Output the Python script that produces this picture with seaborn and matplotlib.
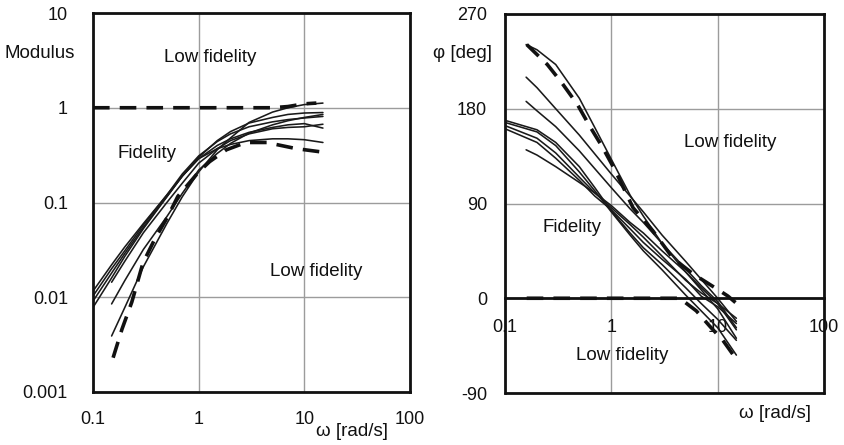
import numpy as np
import pandas as pd
import matplotlib
matplotlib.use("Agg")
import matplotlib.pyplot as plt
from matplotlib.ticker import FixedLocator, NullLocator
import seaborn as sns

# ---------------------------------------------------------------- data
# Modulus curves (angular frequency in rad/s, modulus)
mod_w_full = [0.1, 0.15, 0.2, 0.3, 0.5, 0.7, 1, 1.5, 2, 3, 5, 7, 10, 15]
mod_w_late = [0.15, 0.2, 0.3, 0.5, 0.7, 1, 1.5, 2, 3, 5, 7, 10, 15]

mod_b1 = [0.0116, 0.022, 0.034, 0.060, 0.12, 0.19, 0.29, 0.40, 0.47, 0.55, 0.62, 0.66, 0.68, 0.61]
mod_b2 = [0.0103, 0.020, 0.031, 0.058, 0.12, 0.20, 0.31, 0.44, 0.53, 0.63, 0.71, 0.75, 0.78, 0.81]
mod_b3 = [0.0091, 0.018, 0.029, 0.055, 0.115, 0.19, 0.29, 0.37, 0.41, 0.45, 0.47, 0.47, 0.46, 0.43]
mod_b4 = [0.0078, 0.016, 0.027, 0.053, 0.115, 0.19, 0.30, 0.45, 0.56, 0.69, 0.79, 0.85, 0.88, 0.89]
mod_c1 = [0.0144, 0.024, 0.048, 0.10, 0.16, 0.26, 0.37, 0.45, 0.53, 0.60, 0.62, 0.63, 0.67]
mod_c2 = [0.0085, 0.015, 0.032, 0.071, 0.125, 0.22, 0.33, 0.42, 0.54, 0.66, 0.73, 0.79, 0.85]
mod_c3 = [0.0039, 0.0078, 0.021, 0.060, 0.115, 0.21, 0.36, 0.48, 0.70, 0.90, 1.00, 1.08, 1.12]

mod_upper_w = [0.1, 1, 5, 7, 10, 13]
mod_upper = [1.0, 1.0, 1.0, 1.03, 1.10, 1.12]
mod_lower_w = [0.155, 0.188, 0.233, 0.297, 0.384, 0.51, 0.635, 1.0, 1.27, 1.83, 2.8, 4.4, 8.4, 15]
mod_lower = [0.0023, 0.0046, 0.0089, 0.023, 0.041, 0.071, 0.116, 0.21, 0.27, 0.36, 0.43, 0.43, 0.37, 0.34]

# Phase curves (angular frequency in rad/s, phase in degrees)
ph_w_full = [0.1, 0.2, 0.3, 0.5, 0.7, 1, 1.5, 2, 3, 5, 7, 10, 15]
ph_w_late = [0.158, 0.2, 0.3, 0.5, 0.7, 1, 1.5, 2, 3, 5, 7, 10, 15]

ph_p1 = [241, 236, 222, 190, 162, 132, 98, 78, 52, 25, 8, -10, -38]
ph_p2 = [210, 200, 180, 155, 137, 118, 97, 82, 60, 35, 18, 0, -22]
ph_p3 = [187, 178, 163, 140, 123, 105, 85, 72, 52, 28, 12, -3, -28]
ph_p4 = [141, 136, 125, 110, 100, 88, 72, 62, 45, 25, 10, -5, -30]
ph_p5 = [169, 160, 148, 125, 105, 83, 62, 48, 32, 10, -5, -20, -40]
ph_p6 = [167, 158, 145, 120, 102, 82, 60, 45, 27, 3, -12, -28, -54]
ph_p7 = [164, 152, 138, 115, 100, 86, 70, 58, 40, 17, 5, -5, -19]
ph_p8 = [161, 148, 133, 112, 97, 84, 66, 53, 37, 18, 2, -8, -24]

ph_upper_w = [0.16, 0.25, 0.34, 0.48, 0.63, 0.82, 1.08, 1.6, 2.46, 3.8, 5.9, 10.5, 12.5, 15.5]
ph_upper = [241, 222, 205, 184, 163, 144, 122, 86, 64, 38, 23, 7, 2, -6]
ph_lower_w = [0.16, 1, 3, 4.4, 6.3, 8.5, 11.2, 15.5]
ph_lower = [0, 0, 0, 0, -12, -27, -40, -60]

freq_ticks = [0.1, 1, 10, 100]
freq_labels = ["0.1", "1", "10", "100"]
mod_ticks = [0.001, 0.01, 0.1, 1, 10]
mod_labels = ["0.001", "0.01", "0.1", "1", "10"]
ph_ticks = [-90, 0, 90, 180, 270]
ph_labels = ["-90", "0", "90", "180", "270"]

# ---------------------------------------------------------------- style
sns.set_style("white")
plt.rcParams["font.family"] = ["Liberation Sans", "DejaVu Sans"]
plt.rcParams["text.color"] = "#111111"
plt.rcParams["xtick.color"] = "#111111"
plt.rcParams["ytick.color"] = "#111111"

W, H = 845, 445
fig = plt.figure(figsize=(W / 100, H / 100), dpi=100)


def box(x0, y0, x1, y1):
    return [x0 / W, 1 - y1 / H, (x1 - x0) / W, (y1 - y0) / H]


ax1 = fig.add_axes(box(93, 13, 410, 392))
ax2 = fig.add_axes(box(505, 14, 824, 393))

SOLID = dict(color="#1a1a1a", linewidth=1.15)
DASH = dict(color="#111111", linewidth=2.6, dashes=(4.6, 2.8))
TXT = 13.5

# ---------------------------------------------------------------- modulus
for vals in (mod_b1, mod_b2, mod_b3, mod_b4):
    sns.lineplot(x=mod_w_full, y=vals, ax=ax1, **SOLID)
for vals in (mod_c1, mod_c2, mod_c3):
    sns.lineplot(x=mod_w_late, y=vals, ax=ax1, **SOLID)
ax1.plot(mod_upper_w, mod_upper, **DASH)
ax1.plot(mod_lower_w, mod_lower, **DASH)

ax1.set_xscale("log")
ax1.set_yscale("log")
ax1.set_xlim(0.1, 100)
ax1.set_ylim(0.001, 10)
ax1.xaxis.set_major_locator(FixedLocator(freq_ticks))
ax1.xaxis.set_minor_locator(NullLocator())
ax1.yaxis.set_major_locator(FixedLocator(mod_ticks))
ax1.yaxis.set_minor_locator(NullLocator())
ax1.set_xticklabels(freq_labels)
ax1.set_yticklabels(mod_labels)
ax1.tick_params(axis="x", length=0, pad=14, labelsize=13, labelcolor="#111111")
ax1.tick_params(axis="y", length=0, pad=18, labelsize=13, labelcolor="#111111")
ax1.grid(True, which="major", color="#9c9c9c", linewidth=1.0)
for s in ax1.spines.values():
    s.set_color("#111111")
    s.set_linewidth(2.0)

# ---------------------------------------------------------------- phase
for vals in (ph_p5, ph_p6, ph_p7, ph_p8):
    sns.lineplot(x=ph_w_full, y=vals, ax=ax2, **SOLID)
for vals in (ph_p1, ph_p2, ph_p3, ph_p4):
    sns.lineplot(x=ph_w_late, y=vals, ax=ax2, **SOLID)
ax2.plot(ph_upper_w, ph_upper, **DASH)
ax2.plot(ph_lower_w, ph_lower, **DASH)

ax2.set_xscale("log")
ax2.set_xlim(0.1, 100)
ax2.set_ylim(-90, 270)
ax2.xaxis.set_major_locator(FixedLocator(freq_ticks))
ax2.xaxis.set_minor_locator(NullLocator())
ax2.yaxis.set_major_locator(FixedLocator(ph_ticks))
ax2.set_xticklabels(freq_labels)
ax2.set_yticklabels(ph_labels)
ax2.tick_params(axis="x", length=0, pad=15, labelsize=13, labelcolor="#111111")
ax2.tick_params(axis="y", length=0, pad=13, labelsize=13, labelcolor="#111111")
ax2.grid(True, which="major", color="#9c9c9c", linewidth=1.0)
for s in ax2.spines.values():
    s.set_color("#111111")
    s.set_linewidth(2.0)
# frequency axis runs along the zero-phase line; the lower frame edge stays at -90
ax2.spines["bottom"].set_position(("data", 0))
ax2.axhline(-90, color="#111111", linewidth=2.0, clip_on=False, zorder=3)

# ---------------------------------------------------------------- labels
def ftext(x, y, s, **kw):
    fig.text(x / W, 1 - y / H, s, ha="center", va="center", fontsize=TXT,
             color="#111111", **kw)


ftext(40, 53, "Modulus")
ftext(210, 57, "Low fidelity")
ftext(147, 153, "Fidelity")
ftext(316, 272, "Low fidelity")
ftext(352, 432, "ω [rad/s]")

ftext(463, 53, "φ [deg]")
ftext(730, 142, "Low fidelity")
ftext(572, 228, "Fidelity")
ftext(622, 356, "Low fidelity")
ftext(775, 413, "ω [rad/s]")

fig.savefig("out.png", dpi=100)
